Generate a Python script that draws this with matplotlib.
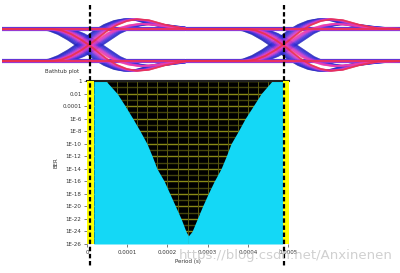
import itertools
import numpy as np
import matplotlib.pyplot as plt

# bathtub edges (log10 BER -> period in s)
ber_exp = [0, -2, -4, -6, -8, -10, -12, -14, -16, -18, -20, -22, -24, -24.7, -26]
left_edge = [4.7e-5, 7.5e-5, 9.5e-5, 1.14e-4, 1.32e-4, 1.49e-4, 1.62e-4, 1.74e-4,
             1.92e-4, 2.06e-4, 2.2e-4, 2.34e-4, 2.46e-4, 2.52e-4, 2.52e-4]
right_edge = [4.6e-4, 4.33e-4, 4.13e-4, 3.93e-4, 3.76e-4, 3.58e-4, 3.46e-4, 3.33e-4,
              3.16e-4, 3.01e-4, 2.87e-4, 2.74e-4, 2.61e-4, 2.52e-4, 2.52e-4]
band_left = [0, 1.7e-5]
band_right = [4.86e-4, 5.02e-4]

ytick_exp = list(range(0, -27, -2))
ytick_labels = ['1', '0.01', '0.0001'] + ['1E%d' % e for e in range(-6, -27, -2)]
xtick_vals = [0, 1e-4, 2e-4, 3e-4, 4e-4, 5e-4]
xtick_labels = ['0', '0.0001', '0.0002', '0.0003', '0.0004', '0.0005']

# eye diagram, in pixel units of the picture
cross_x = [89, 283]
rise_dx = [-100, -36, -27, -18, -9, 0, 9, 18, 28, 38, 48, 60, 75, 95, 130]
rise_strong = [61, 61, 59.5, 56, 51, 45, 38, 31, 25, 21, 19.2, 20.2, 24.5, 28.5, 29]
rise_weak = [61, 61, 59.5, 56, 51, 45, 39, 33, 28.5, 25.5, 24, 24.5, 26.5, 28.5, 29]
rail_hi, rail_lo = 29, 61
jitter = [-13, 13, -11, 11, -9, 9, -7, 7, -5, 5, -3, 3, -1, 1, 0]
rail_off = [-1.3, 1.3, -1.1, 1.1, -0.9, 0.9, -0.7, 0.7, -0.5, 0.5, -0.3, 0.3, -0.2, 0.2, 0]
trace_colors = ['#2020b0', '#2424c0', '#2a2ac8', '#3030d0', '#3a32d8', '#4634dc',
                '#5a36dc', '#7038dc', '#9a3ad6', '#b43cd2', '#cc3ccc', '#dc3cc4',
                '#e63cb8', '#ee3ca8', '#e8304a']

fig = plt.figure(figsize=(4, 2.73), dpi=100)

# eye diagram layer
ax_eye = fig.add_axes([0, 0, 1, 1])
ax_eye.set_xlim(0, 400)
ax_eye.set_ylim(273, 0)
ax_eye.axis('off')

xs = np.arange(2, 401)
mid = (cross_x[0] + cross_x[1]) / 2


def seg(x, cx, a, b, jit, off, tpl):
    if a == b:
        return np.full(len(x), (rail_hi if a else rail_lo) + off)
    if not b:
        tpl = [rail_hi + rail_lo - v for v in tpl]
    return np.interp(x - cx - jit, rise_dx, tpl)


for j, jit in enumerate(jitter):
    tpl = rise_strong if j % 2 == 0 else rise_weak
    for bits in itertools.product([0, 1], repeat=3):
        ya = seg(xs, cross_x[0], bits[0], bits[1], jit, rail_off[j], tpl)
        yb = seg(xs, cross_x[1], bits[1], bits[2], jit, rail_off[j], tpl)
        y = np.where(xs < mid, ya, yb)
        ax_eye.plot(xs, y, color=trace_colors[j], lw=1.2, alpha=0.6,
                    solid_capstyle='butt')

ax_eye.text(45, 71, 'Bathtub plot', fontsize=4, color='#333333', va='center')

# bathtub plot
ax = fig.add_axes([87 / 400, 1 - 244 / 273, 202 / 400, 163 / 273])
ax.set_facecolor('black')
ax.set_yscale('log')
ax.set_xlim(0, 5.02e-4)
ax.set_ylim(1e-26, 1)

ber = [10.0 ** e for e in ber_exp]
for e in range(0, -27, -1):
    ax.axhline(10.0 ** e, color='#8a8a16' if e % 2 == 0 else '#45450c', lw=1.0, zorder=1)
for v in np.arange(0, 5.0e-4, 2.5e-5):
    ax.axvline(v, color='#5a5a10', lw=0.7, zorder=1)

ax.fill_betweenx(ber, band_left[1], left_edge, color='#14d8f6', lw=0, zorder=2)
ax.fill_betweenx(ber, right_edge, band_right[0], color='#14d8f6', lw=0, zorder=2)
ax.axvspan(band_left[0], band_left[1], color='#ffff00', lw=0, zorder=3)
ax.axvspan(band_right[0], band_right[1], color='#ffff00', lw=0, zorder=3)

ax.set_yticks([10.0 ** e for e in ytick_exp])
ax.set_yticklabels(ytick_labels)
ax.set_xticks(xtick_vals)
ax.set_xticklabels(xtick_labels)
ax.minorticks_off()
ax.tick_params(labelsize=4, colors='#666666', labelcolor='#333333', length=2.5, width=0.6, pad=1.5)
ax.set_ylabel('BER', fontsize=4, color='#333333', labelpad=2.5)
ax.set_xlabel('Period (s)', fontsize=4, color='#333333', labelpad=3)
for s in ['left', 'right', 'bottom']:
    ax.spines[s].set_visible(False)
ax.spines['top'].set_color('#222222')
ax.spines['top'].set_linewidth(1.5)

# dashed markers and watermark on top
ax_top = fig.add_axes([0, 0, 1, 1], zorder=5)
ax_top.set_xlim(0, 400)
ax_top.set_ylim(273, 0)
ax_top.axis('off')
ax_top.patch.set_alpha(0)
for cx in cross_x:
    ax_top.plot([cx + 1, cx + 1], [5, 268], color='black', lw=1.6, linestyle=(0, (2, 1.2)))
ax_top.text(393, 255, 'https://blog.csdn.net/Anxinenen', fontsize=9.5, color='#c8c8c8',
            alpha=0.85, ha='right', va='center')

fig.savefig('out.png', dpi=100)
